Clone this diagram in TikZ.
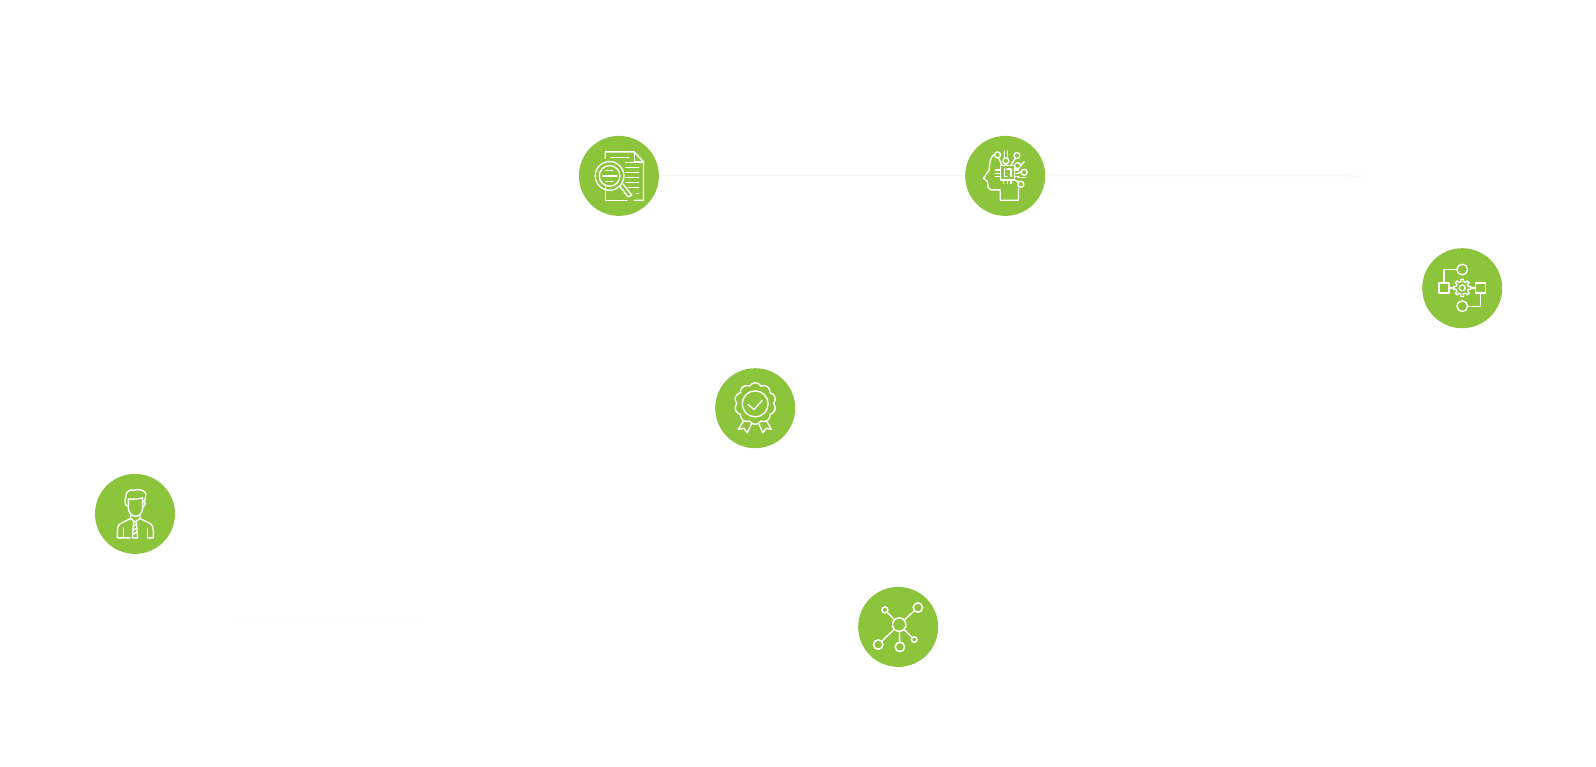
\documentclass[tikz,border=0pt]{standalone}
\usepackage{tikz}
\usetikzlibrary{positioning, calc}
\definecolor{mainGreen}{HTML}{8CC43C}
\definecolor{faintGrey}{HTML}{F8F9F6}
\tikzset{
    badge/.style={circle, fill=mainGreen, minimum size=80pt, inner sep=0pt},
    iconline/.style={draw=white, line width=1.35pt, line join=round, line cap=round},
    iconat/.style n args={3}{shift={(#1.center)}, x=0.3333pt, y=-0.3333pt, shift={(-#2,-#3)}},
    dotnode/.style={circle, draw=white, line width=1.5pt, inner sep=0pt, minimum size=#1}
}

\begin{document}
\begin{tikzpicture}[x=1pt, y=-1pt]
        \fill[white] (0,0) rectangle (1596,766);
        \useasboundingbox (0,0) rectangle (1596,766);

        % Faint lines behind the badges
        \coordinate (lineEnd) at (1364,176);
        \coordinate (lowStart) at (236,619);
        \coordinate (lowEnd) at (420,619);

        % Badges
        \node[badge] (scanIcon) at (618.9,175.9) {};
        \node[badge] (brainIcon) at (1005.2,175.9) {};
        \node[badge] (flowIcon) at (1462.2,288.2) {};
        \node[badge] (awardIcon) at (755.2,408.2) {};
        \node[badge] (userIcon) at (135,513.9) {};
        \node[badge] (netIcon) at (898.2,626.9) {};

        \draw[faintGrey, line width=1pt] (scanIcon) -- (brainIcon);
        \draw[faintGrey, line width=1pt] (brainIcon) -- (lineEnd);
        \draw[black!1, line width=1pt] (lowStart) -- (lowEnd);

        % Document under a lens
        \begin{scope}[iconat={scanIcon}{176}{152}]
            \draw[iconline] (135,100) -- (135,80) -- (222,80) -- (250,110) -- (250,225) -- (222,225);
            \draw[iconline] (200,225) -- (135,225) -- (135,178);
            \draw[iconline] (222,80) -- (222,110) -- (250,110);
            \draw[iconline] (148,152) circle[radius=43];
            \draw[iconline] (148,152) circle[radius=31];
            \draw[iconline] (137,135) -- (158,135);
            \draw[iconline] (127,152) -- (170,152);
            \draw[iconline] (137,168) -- (158,168);
            \draw[iconline] (178,182) -- (203,215) -- (215,210) -- (188,176);
            \draw[iconline] (152,97) -- (205,97);
            \foreach \y in {112, 127, 142, 157, 172} {
                \draw[iconline] (197,\y) -- (235,\y);
            }
            \draw[iconline] (205,187) -- (235,187);
            \draw[iconline] (228,205) -- (235,205);
        \end{scope}

        % Head with a chip
        \begin{scope}[iconat={brainIcon}{195}{153}]
            \draw[iconline] (165,87) .. controls (150,92) and (148,115) .. (147,135) -- (130,160) -- (142,170) -- (144,188) -- (152,195) -- (180,195) -- (180,226) -- (235,226) -- (235,190);
            \draw[iconline] (180,122) rectangle (222,165);
            \draw[iconline] (192,132) -- (192,155) -- (200,155);
            \draw[iconline] (200,132) -- (212,132) -- (212,155);
            \foreach \y in {135, 145, 155} {
                \draw[iconline] (165,\y) -- (180,\y);
                \draw[iconline] (222,\y) -- (234,\y);
            }
            \foreach \x in {190, 201, 212} {
                \draw[iconline] (\x,165) -- (\x,176);
            }
            \foreach \x/\y in {172/90, 197/108, 230/92, 232/122, 252/142, 242/178} {
                \draw[iconline] (\x,\y) circle[radius=9];
            }
            \draw[iconline] (175,99) -- (186,122);
            \draw[iconline] (197,117) -- (197,122);
            \draw[iconline] (192,78) -- (192,96);
            \draw[iconline] (202,78) -- (202,96);
            \draw[iconline] (225,100) -- (212,122);
            \draw[iconline] (225,128) -- (222,135);
            \draw[iconline] (243,140) -- (234,145);
            \draw[iconline] (252,110) -- (242,122);
            \draw[iconline] (234,158) -- (256,158);
            \draw[iconline] (222,165) -- (236,171);
        \end{scope}

        % Process with a gear
        \begin{scope}[iconat={flowIcon}{222}{159}]
            \draw[iconline] (152,143) rectangle (182,173);
            \draw[iconline] (262,143) rectangle (292,173);
            \draw[iconline] (222,103) circle[radius=16];
            \draw[iconline] (222,213) circle[radius=16];
            \draw[iconline] (167,143) -- (167,103) -- (206,103);
            \draw[iconline] (277,173) -- (277,213) -- (238,213);
            \draw[iconline] (182,158) -- (196,158);
            \draw[iconline] (248,158) -- (262,158);
            \begin{scope}[shift={(222,158)}]
                \foreach \a in {0, 45, ..., 315} {
                    \draw[iconline] (\a-12:19) -- (\a-9:26) -- (\a+9:26) -- (\a+12:19) -- (\a+33:19);
                }
                \draw[iconline] (0,0) circle[radius=9];
            \end{scope}
        \end{scope}

        % Award rosette
        \begin{scope}[iconat={awardIcon}{189}{168}]
            \begin{scope}[shift={(189,154)}]
                \draw[iconline] plot[domain=0:360, samples=241] (\x:{55+7*abs(sin(5*\x))}) -- cycle;
            \end{scope}
            \draw[iconline] (189,155) circle[radius=39];
            \draw[iconline] (168,157) -- (185,172) -- (210,145);
            \draw[iconline] (155,205) -- (138,232) -- (155,228) -- (165,242) -- (178,215);
            \draw[iconline] (222,205) -- (238,232) -- (222,228) -- (212,242) -- (200,215);
        \end{scope}

        % Man in a tie
        \begin{scope}[iconat={userIcon}{155}{173}]
            \draw[iconline] (135,128) -- (135,155) .. controls (135,172) and (148,180) .. (157,180) .. controls (166,180) and (178,172) .. (178,155) -- (178,125);
            \draw[iconline] (135,128) .. controls (150,130) and (165,128) .. (178,125);
            \draw[iconline] (135,150) .. controls (125,150) and (122,135) .. (128,122) .. controls (125,108) and (140,98) .. (150,102) .. controls (165,98) and (192,100) .. (187,120) -- (184,135);
            \draw[iconline] (178,135) .. controls (188,135) and (188,150) .. (178,152);
            \draw[iconline] (142,175) -- (142,187) -- (155,197) -- (170,187) -- (170,175);
            \draw[iconline] (142,187) -- (115,200) .. controls (105,205) and (102,212) .. (102,222) -- (102,245) -- (140,245);
            \draw[iconline] (170,187) -- (197,200) .. controls (207,205) and (210,212) .. (210,222) -- (210,245) -- (192,245);
            \draw[iconline] (120,215) -- (120,245);
            \draw[iconline] (192,218) -- (192,245);
            \draw[iconline] (151,197) -- (159,197) -- (163,245) -- (147,245) -- cycle;
            \foreach \y in {207, 219, 231} {
                \draw[iconline] (149,\y+4) -- (161,\y-4);
            }
        \end{scope}

        % Hub and spokes
        \begin{scope}[iconat={netIcon}{195}{179}]
            \node[dotnode=13.4pt] (hub) at (198,172) {};
            \node[dotnode=9.4pt] (spokeA) at (254,121) {};
            \node[dotnode=6pt] (spokeB) at (155,128) {};
            \node[dotnode=9.4pt] (spokeC) at (135,232) {};
            \node[dotnode=9.4pt] (spokeD) at (200,239) {};
            \node[dotnode=5.6pt] (spokeE) at (243,217) {};
            \foreach \s in {spokeA, spokeB, spokeC, spokeD, spokeE} {
                \draw[iconline] (hub) -- (\s);
            }
        \end{scope}
    \end{tikzpicture}
\end{document}
